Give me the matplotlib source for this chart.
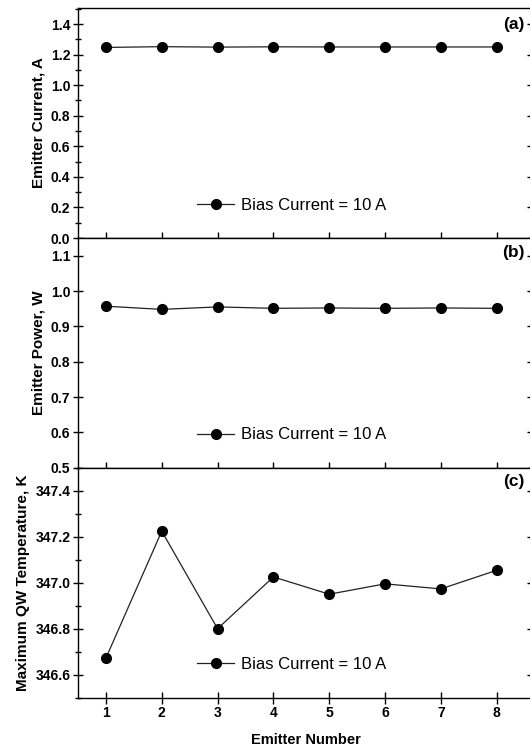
import matplotlib
matplotlib.use('Agg')
import matplotlib.pyplot as plt
from matplotlib.ticker import MultipleLocator, FormatStrFormatter

plt.rcParams['font.family'] = ['Liberation Sans', 'DejaVu Sans']

# data
emitters = [1, 2, 3, 4, 5, 6, 7, 8]
current = [1.247, 1.252, 1.249, 1.251, 1.250, 1.250, 1.250, 1.250]
power = [0.957, 0.948, 0.955, 0.951, 0.952, 0.951, 0.952, 0.951]
temperature = [346.672, 347.224, 346.800, 347.025, 346.950, 346.995, 346.973, 347.054]

legend_label = 'Bias Current = 10 A'
panel_tags = ['(a)', '(b)', '(c)']
ylabels = ['Emitter Current, A', 'Emitter Power, W', 'Maximum QW Temperature, K']
series = [current, power, temperature]
ylims = [(0, 1.505), (0.5, 1.15), (346.5, 347.5)]
ymajor = [0.2, 0.1, 0.2]
yminor = [0.1, None, 0.1]
tag_y = [0.93, 0.935, 0.94]

fig = plt.figure(figsize=(5.3, 7.48), dpi=100)

left = 78 / 530
width = 455 / 530
bottoms = [(748 - 238) / 748, (748 - 467.7) / 748, (748 - 697.7) / 748]
heights = [230 / 748, 229.7 / 748, 230 / 748]

for i in range(3):
    ax = fig.add_axes([left, bottoms[i], width, heights[i]])
    ax.plot(emitters, series[i], color='#222222', linewidth=0.9,
            marker='o', markersize=7, markerfacecolor='black',
            markeredgecolor='black', label=legend_label)

    ax.set_xlim(0.5, 8.65)
    ax.set_ylim(*ylims[i])
    ax.set_xticks(emitters)
    ax.yaxis.set_major_locator(MultipleLocator(ymajor[i]))
    if yminor[i]:
        ax.yaxis.set_minor_locator(MultipleLocator(yminor[i]))
    ax.yaxis.set_major_formatter(FormatStrFormatter('%.1f'))

    for sp in ax.spines.values():
        sp.set_linewidth(1.0)
        sp.set_color('black')

    ax.tick_params(axis='y', which='major', direction='inout', length=7, width=1,
                   left=True, right=False, labelsize=10, pad=2)
    ax.tick_params(axis='y', which='minor', direction='inout', length=4, width=1,
                   left=True, right=False)
    # inner ticks on the right side
    ay = ax.secondary_yaxis('right')
    ay.yaxis.set_major_locator(MultipleLocator(ymajor[i]))
    if yminor[i]:
        ay.yaxis.set_minor_locator(MultipleLocator(yminor[i]))
    ay.tick_params(which='major', direction='in', length=4, width=1, labelright=False)
    ay.tick_params(which='minor', direction='in', length=2, width=1, labelright=False)
    ay.spines['right'].set_linewidth(1.0)

    if i < 2:
        ax.tick_params(axis='x', direction='in', length=4, width=1, labelbottom=False)
    else:
        ax.tick_params(axis='x', direction='inout', length=8, width=1, labelsize=10, pad=2)
        ax.set_xlabel('Emitter Number', fontsize=10.5, fontweight='bold', labelpad=9)

    for lab in ax.get_xticklabels() + ax.get_yticklabels():
        lab.set_fontweight('bold')

    ax.set_ylabel(ylabels[i], fontsize=11, fontweight='bold', labelpad=4)

    ax.text(0.982, tag_y[i], panel_tags[i], transform=ax.transAxes,
            ha='right', va='center', fontsize=12.5, fontweight='bold')

    ax.legend(loc='center left', bbox_to_anchor=(0.262, 0.143), frameon=False,
              borderpad=0, borderaxespad=0, handlelength=2.2, handletextpad=0.4,
              fontsize=12)

fig.savefig('out.png', dpi=100)
